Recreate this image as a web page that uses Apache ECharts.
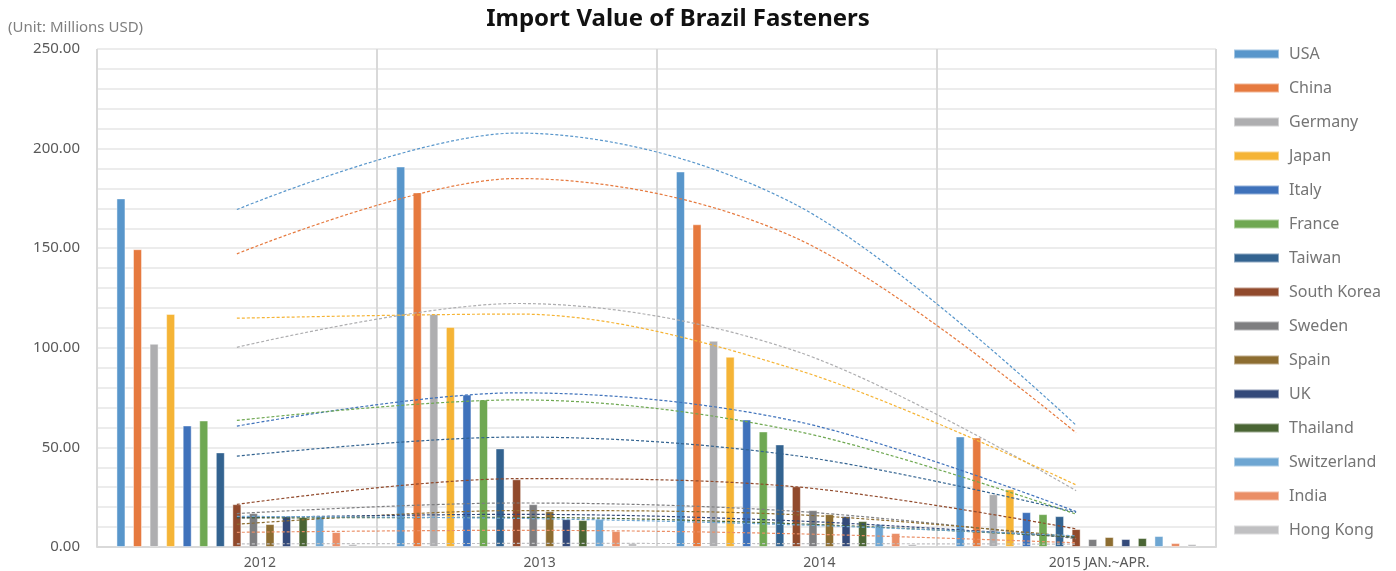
<!DOCTYPE html>
<html>
<head>
<meta charset="utf-8">
<title>Import Value of Brazil Fasteners</title>
<script src="https://cdn.jsdelivr.net/npm/echarts@6/dist/echarts.min.js"></script>
<style>
  html, body { margin: 0; padding: 0; background: #fff; }
  #chart { width: 1396px; height: 571px; }
</style>
</head>
<body>
<div id="chart"></div>
<script>
// categories
var years = ['2012', '2013', '2014', '2015 JAN.~APR.'];

// values, millions USD
var usa         = [175, 191, 188.5, 55.5];
var china       = [149.5, 178, 162, 55];
var germany     = [102, 117, 103.5, 26.5];
var japan       = [117, 110.5, 95.5, 29];
var italy       = [61, 76.5, 64, 17.5];
var france      = [63.5, 74, 58, 16.5];
var taiwan      = [47.5, 49.5, 51.5, 15.5];
var southKorea  = [21.5, 34, 30.5, 9];
var sweden      = [17, 21.5, 18.5, 4];
var spain       = [11.5, 18, 16.5, 5];
var uk          = [15.5, 14, 15.5, 4];
var thailand    = [15, 13.5, 13, 4.5];
var switzerland = [15.5, 14, 11.5, 5.5];
var india       = [7.5, 8, 7, 2];
var hongKong    = [1.5, 2, 1.5, 1.5];

var countries = ['USA', 'China', 'Germany', 'Japan', 'Italy', 'France', 'Taiwan', 'South Korea',
                 'Sweden', 'Spain', 'UK', 'Thailand', 'Switzerland', 'India', 'Hong Kong'];
var values = [usa, china, germany, japan, italy, france, taiwan, southKorea,
              sweden, spain, uk, thailand, switzerland, india, hongKong];
var colors = ['#5896cb', '#e67a3f', '#aeaeb0', '#f5b436', '#3f72bb', '#6fa852', '#336390', '#914a2c',
              '#7e7e80', '#8d6d31', '#344a7a', '#4a6534', '#6ea6d2', '#ea8e66', '#c0c0c2'];

// 2nd order polynomial trend (least squares), evaluated at each category
function polyTrend(ys) {
    var t = [-1.5, -0.5, 0.5, 1.5];
    var s0 = 0, s1 = 0, s2 = 0;
    for (var i = 0; i < ys.length; i++) {
        s0 += ys[i];
        s1 += t[i] * ys[i];
        s2 += t[i] * t[i] * ys[i];
    }
    var b = s1 / 5;
    var c = (s2 - 1.25 * s0) / 4;
    var a = (s0 - 5 * c) / 4;
    return t.map(function (x) { return +(a + b * x + c * x * x).toFixed(3); });
}

var series = [];
countries.forEach(function (name, i) {
    series.push({
        name: name,
        type: 'bar',
        data: values[i],
        barWidth: 9,
        barGap: '84%',
        itemStyle: {
            color: colors[i],
            borderColor: 'rgba(255,255,255,0.45)',
            borderWidth: 1
        },
        z: 2
    });
});
countries.forEach(function (name, i) {
    series.push({
        name: name + ' trend',
        type: 'line',
        data: polyTrend(values[i]),
        smooth: 0.33,
        symbol: 'none',
        silent: true,
        lineStyle: { color: colors[i], width: 1.2, type: [3, 2] },
        z: 3
    });
});

var chart = echarts.init(document.getElementById('chart'));
var option = {
    backgroundColor: '#ffffff',
    animation: false,
    textStyle: { fontFamily: '"Noto Sans", "Open Sans", sans-serif' },
    title: [{
        text: 'Import Value of Brazil Fasteners',
        left: 673,
        top: 2,
        textAlign: 'center',
        textStyle: { fontSize: 24, fontWeight: 'bold', color: '#111111' }
    }, {
        text: '(Unit: Millions USD)',
        left: 3,
        top: 15,
        textStyle: { fontSize: 15, fontWeight: 'normal', color: '#7f7f7f' }
    }],
    legend: {
        orient: 'vertical',
        left: 1228,
        top: 38,
        data: countries,
        icon: 'rect',
        itemWidth: 45,
        itemHeight: 9,
        itemGap: 12,
        textStyle: { fontSize: 16, color: '#757575', lineHeight: 22, padding: [0, 0, 0, 5] }
    },
    grid: { left: 97, right: 180, top: 49, bottom: 24 },
    xAxis: {
        type: 'category',
        data: years,
        axisTick: { show: false },
        axisLine: { lineStyle: { color: '#d9d9d9', width: 2 } },
        axisLabel: { fontSize: 14, color: '#595959', margin: 9, padding: [0, 0, 0, 46] },
        splitLine: { show: true, lineStyle: { color: '#d9d9d9', width: 2 } }
    },
    yAxis: {
        type: 'value',
        min: 0,
        max: 250,
        interval: 50,
        axisLine: { show: false },
        axisTick: { show: false },
        axisLabel: {
            fontSize: 15,
            color: '#595959',
            margin: 17,
            formatter: function (v) { return v.toFixed(2); }
        },
        splitLine: { lineStyle: { color: '#ececec', width: 2 } },
        minorTick: { show: false, splitNumber: 5 },
        minorSplitLine: { show: true, lineStyle: { color: '#ececec', width: 2 } }
    },
    series: series
};
chart.setOption(option);
</script>
</body>
</html>
